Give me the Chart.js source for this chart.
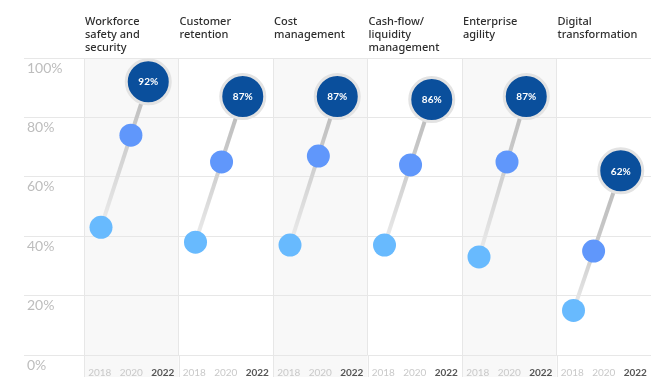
<!DOCTYPE html>
<html><head><meta charset="utf-8">
<script src="https://cdn.jsdelivr.net/npm/chart.js@4"></script>
<style>html,body{margin:0;padding:0;background:#fff}#wrap{width:657px;height:385px;position:relative}</style>
</head><body><div id="wrap"><canvas id="c"></canvas></div>
<script>
const categories = [["Workforce","safety and","security"],["Customer","retention"],["Cost","management"],["Cash-flow/","liquidity","management"],["Enterprise","agility"],["Digital","transformation"]];
const years = ["2018","2020","2022"];
const values2018 = [43, 38, 37, 37, 33, 15];
const values2020 = [74, 65, 67, 64, 65, 35];
const values2022 = [92, 87, 87, 86, 87, 62];
const yTicks = [0, 20, 40, 60, 80, 100];

const GRID = '#e7e7e7';
const BAND = '#f8f8f8';

// x placement within each category column (slanted connector)
function xFor(i, k) {
  const start = i + 0.18, span = 0.5;
  if (k === 0) return start;
  if (k === 2) return start + span;
  return start + span * (values2020[i] - values2018[i]) / (values2022[i] - values2018[i]);
}
const series = [values2018, values2020, values2022];
const pts = k => categories.map((_, i) => ({x: xFor(i, k), y: series[k][i]}));
const lineData = [];
categories.forEach((_, i) => {
  for (let k = 0; k < 3; k++) lineData.push({x: xFor(i, k), y: series[k][i]});
  lineData.push({x: i + 0.95, y: null});
});
const yearLabels = categories.flatMap(() => years);

const bands = {
  id: 'bands',
  beforeDraw(chart) {
    const {ctx, chartArea, scales} = chart;
    const x = scales.x, bottom = chart.height - 8;
    ctx.save();
    ctx.fillStyle = BAND;
    categories.forEach((_, i) => {
      if (i % 2 === 0) {
        const l = x.getPixelForValue(i), r = x.getPixelForValue(i + 1);
        ctx.fillRect(l, chartArea.top, r - l, bottom - chartArea.top);
      }
    });
    ctx.strokeStyle = GRID; ctx.lineWidth = 1;
    categories.forEach((_, i) => {
      const px = Math.round(x.getPixelForValue(i)) + 0.5;
      ctx.beginPath(); ctx.moveTo(px, chartArea.bottom); ctx.lineTo(px, bottom); ctx.stroke();
    });
    ctx.restore();
  }
};
const bubbleLabels = {
  id: 'bubbleLabels',
  afterDatasetsDraw(chart) {
    const meta = chart.getDatasetMeta(0), c = chart.ctx;
    c.save();
    c.fillStyle = '#fff'; c.font = 'bold 10px Lato'; c.textAlign = 'center'; c.textBaseline = 'middle';
    meta.data.forEach((p, i) => c.fillText(values2022[i] + '%', p.x, p.y + 0.5));
    c.restore();
  }
};

new Chart(document.getElementById('c'), {
  type: 'scatter',
  data: {
    datasets: [
      {label: '2022', data: pts(2), pointRadius: 22, pointBackgroundColor: '#0a4f9c', pointBorderColor: '#e3e3e3', pointBorderWidth: 3},
      {label: '2020', data: pts(1), pointRadius: 11.5, pointBackgroundColor: '#6097fb', pointBorderWidth: 0},
      {label: '2018', data: pts(0), pointRadius: 11.5, pointBackgroundColor: '#68bafe', pointBorderWidth: 0},
      {type: 'line', label: 'link', data: lineData, showLine: true, spanGaps: false, pointRadius: 0, borderWidth: 4, tension: 0,
        borderColor: '#cccccc',
        segment: {
          borderColor: ctx => {
            const g = ctx.chart.ctx.createLinearGradient(0, ctx.p0.y, 0, ctx.p1.y);
            if (ctx.p0DataIndex % 4 === 0) { g.addColorStop(0, '#ececec'); g.addColorStop(1, '#cbcbcb'); }
            else { g.addColorStop(0, '#cbcbcb'); g.addColorStop(1, '#b9b9b9'); }
            return g;
          }
        }}
    ]
  },
  options: {
    responsive: true, maintainAspectRatio: false, animation: false, devicePixelRatio: 1,
    events: [],
    layout: {autoPadding: false, padding: {left: 27, right: 6, top: 0, bottom: 0}},
    plugins: {legend: {display: false}, tooltip: {enabled: false}},
    scales: {
      x: {
        type: 'linear', position: 'top', min: 0, max: 6,
        afterBuildTicks: s => { s.ticks = categories.map((_, i) => ({value: i})); },
        afterFit: s => { s.height = 58; s.paddingLeft = 0; s.paddingRight = 0; },
        grid: {color: GRID, drawTicks: false},
        border: {display: false},
        ticks: {align: 'start', crossAlign: 'far', padding: 4, labelOffset: 1, maxRotation: 0, autoSkip: false,
          color: '#2e2e2e', font: {family: 'Noto Sans', size: 11, weight: '500', lineHeight: 1.18},
          callback: v => categories[v] || ''}
      },
      x2: {
        type: 'category', position: 'bottom', labels: yearLabels, offset: true,
        afterFit: s => { s.height = 30; s.paddingLeft = 0; s.paddingRight = 0; },
        grid: {display: false}, border: {display: false},
        ticks: {padding: 4, autoSkip: false, maxRotation: 0,
          color: ctx => ctx.index % 3 === 2 ? '#555555' : '#c9c9c9',
          font: ctx => ({family: 'Lato', size: 10, weight: ctx.index % 3 === 2 ? 'bold' : 'normal'})}
      },
      y: {
        min: 0, max: 100, position: 'left',
        afterBuildTicks: s => { s.ticks = yTicks.map(v => ({value: v})); },
        afterFit: s => { s.width = 57; },
        grid: {color: GRID, tickLength: 60},
        border: {display: false},
        ticks: {crossAlign: 'far', labelOffset: 10, color: '#bdbdbd', font: {family: 'Lato', size: 14}, callback: v => v + '%'}
      }
    }
  },
  plugins: [bands, bubbleLabels]
});
</script>
</body></html>
